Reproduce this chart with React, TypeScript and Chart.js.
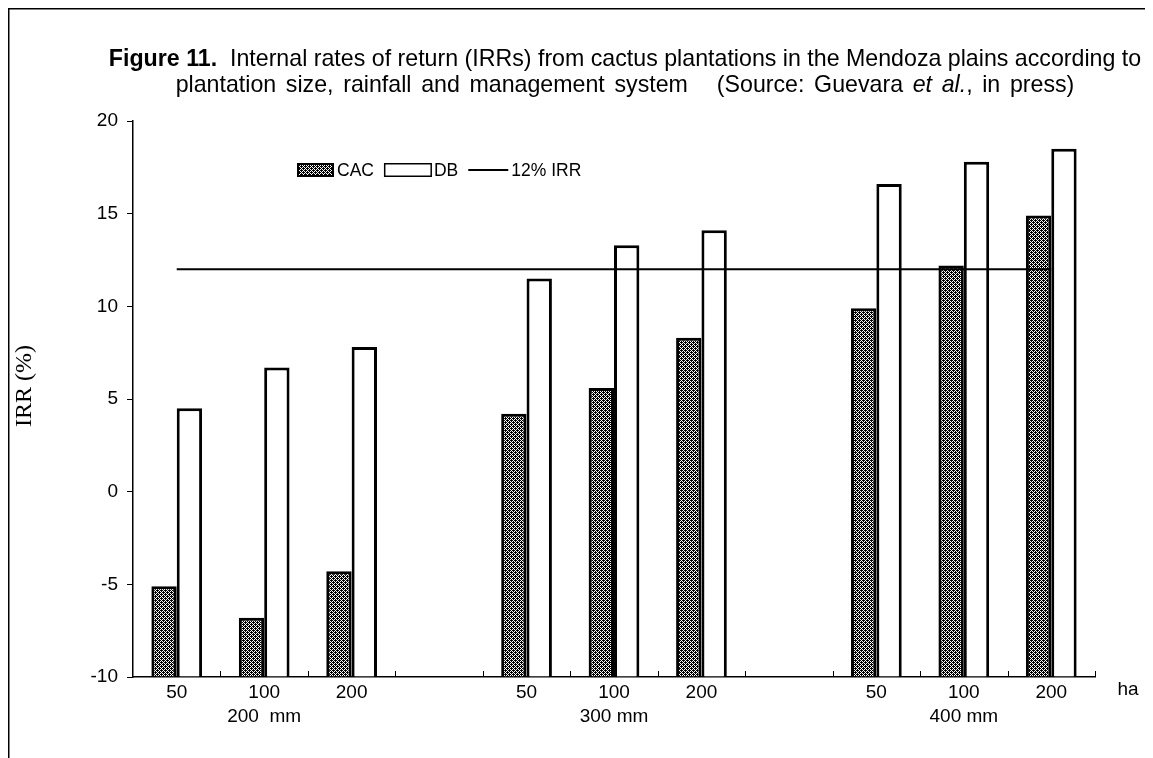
import React, { useEffect, useRef } from "react";
import { Chart, registerables } from "chart.js";

Chart.register(...registerables);

// ---- data ----
const sizeLabels = ["50", "100", "200", "", "50", "100", "200", "", "50", "100", "200"];
const rainfallLabels = ["", "200  mm", "", "", "", "300 mm", "", "", "", "400 mm", ""];
const cacValues = [-5.1, -6.8, -4.3, null, 4.2, 5.6, 8.3, null, 9.9, 12.2, 14.9];
const dbValues = [4.5, 6.7, 7.8, null, 11.5, 13.3, 14.1, null, 16.6, 17.8, 18.5];
const irrLine = [12, 12, 12, 12, 12, 12, 12, 12, 12, 12, 12];
const yTicks = [-10, -5, 0, 5, 10, 15, 20];
const unitLabel = "ha";
const seriesNames = ["CAC", "DB", "12% IRR"];
const yTitle = "IRR (%)";
const titleLine1Bold = "Figure 11.";
const titleLine1Rest = "  Internal rates of return (IRRs) from cactus plantations in the Mendoza plains according to";
const titleLine2A = "plantation size, rainfall and management system   (Source: Guevara ";
const titleLine2Italic = "et al.";
const titleLine2B = ", in press)";

const SANS = "'Liberation Sans', Arial, sans-serif";
const SERIF = "'Liberation Serif', 'Times New Roman', serif";
const W = 1137;
const H = 750;

function makePattern(ctx: CanvasRenderingContext2D) {
  const c = document.createElement("canvas");
  c.width = 4;
  c.height = 4;
  const g = c.getContext("2d")!;
  g.fillStyle = "#ffffff";
  g.fillRect(0, 0, 4, 4);
  g.fillStyle = "#000000";
  const rows = ["1011", "0101", "1110", "0101"];
  rows.forEach((r, y) => {
    for (let x = 0; x < 4; x++) if (r[x] === "1") g.fillRect(x, y, 1, 1);
  });
  return ctx.createPattern(c, "repeat")!;
}

export default function App() {
  const ref = useRef<HTMLCanvasElement>(null);

  useEffect(() => {
    document.documentElement.style.overflow = "hidden";
    document.body.style.overflow = "hidden";
    const canvas = ref.current!;
    const ctx = canvas.getContext("2d")!;
    const pattern = makePattern(ctx);
    const labels = sizeLabels.map((s, i) => (rainfallLabels[i] ? [s, rainfallLabels[i]] : s));

    const framePlugin = {
      id: "frame",
      beforeDraw(chart: any) {
        const c = chart.ctx;
        c.save();
        c.strokeStyle = "#000";
        c.lineWidth = 1.5;
        c.beginPath();
        c.moveTo(0, 0.75);
        c.lineTo(chart.width, 0.75);
        c.moveTo(0.75, 0);
        c.lineTo(0.75, chart.height);
        c.stroke();
        c.restore();
      },
    };

    const titlePlugin = {
      id: "figTitle",
      afterDraw(chart: any) {
        const c = chart.ctx as any;
        const cx = 617;
        const size = 23.2;
        const drawSegs = (segs: { t: string; f: string }[], y: number, ws: string) => {
          c.wordSpacing = ws;
          let total = 0;
          segs.forEach((s) => {
            c.font = s.f;
            total += c.measureText(s.t).width;
          });
          let x = cx - total / 2;
          segs.forEach((s) => {
            c.font = s.f;
            c.fillText(s.t, x, y);
            x += c.measureText(s.t).width;
          });
          c.wordSpacing = "0px";
        };
        c.save();
        c.fillStyle = "#000";
        c.textBaseline = "middle";
        c.textAlign = "left";
        drawSegs(
          [
            { t: titleLine1Bold, f: `bold ${size}px ${SANS}` },
            { t: titleLine1Rest, f: `${size}px ${SANS}` },
          ],
          52,
          "0px"
        );
        drawSegs(
          [
            { t: titleLine2A, f: `${size}px ${SANS}` },
            { t: titleLine2Italic, f: `italic ${size}px ${SANS}` },
            { t: titleLine2B, f: `${size}px ${SANS}` },
          ],
          78,
          "3.2px"
        );
        // y-axis title
        c.save();
        c.translate(17, 378);
        c.rotate(-Math.PI / 2);
        c.textAlign = "center";
        c.textBaseline = "middle";
        c.font = `24px ${SERIF}`;
        c.fillText(yTitle, 0, 0);
        c.restore();
        c.restore();
      },
    };

    const axisExtrasPlugin = {
      id: "axisExtras",
      afterDatasetsDraw(chart: any) {
        const c = chart.ctx as CanvasRenderingContext2D;
        const xs = chart.scales.x;
        const n = xs.ticks.length;
        const step = (xs.right - xs.left) / n;
        const yb = chart.chartArea.bottom;
        c.save();
        c.strokeStyle = "#000";
        c.lineWidth = 1;
        c.beginPath();
        for (let i = 1; i <= n; i++) {
          const px = Math.round(xs.left + step * i) + 0.5;
          c.moveTo(px, yb);
          c.lineTo(px, yb - 6);
        }
        c.stroke();
        // unit label
        c.fillStyle = "#000";
        c.font = `19px ${SANS}`;
        c.textAlign = "center";
        c.textBaseline = "middle";
        c.fillText(unitLabel, chart.chartArea.right + 33, yb + 13);
        c.restore();
      },
    };

    const legendPlugin = {
      id: "customLegend",
      afterDraw(chart: any) {
        const c = chart.ctx as CanvasRenderingContext2D;
        const ca = chart.chartArea;
        let x = ca.left + 164;
        const top = ca.top + 42;
        const h = 14;
        const mid = top + h / 2;
        c.save();
        c.font = `17.5px ${SANS}`;
        c.textBaseline = "middle";
        c.textAlign = "left";
        c.fillStyle = "#000";
        // CAC
        c.fillStyle = pattern;
        c.fillRect(x, top, 37, h);
        c.strokeStyle = "#000";
        c.lineWidth = 2;
        c.strokeRect(x + 1, top + 1, 35, h - 2);
        x += 40;
        c.fillStyle = "#000";
        c.fillText(seriesNames[0], x, mid + 1);
        x += c.measureText(seriesNames[0]).width + 10;
        // DB
        c.fillStyle = "#fff";
        c.fillRect(x, top, 48, h);
        c.lineWidth = 1.5;
        c.strokeRect(x + 0.75, top + 0.75, 46.5, h - 1.5);
        x += 50;
        c.fillStyle = "#000";
        c.fillText(seriesNames[1], x, mid + 1);
        x += c.measureText(seriesNames[1]).width + 10;
        // line
        c.lineWidth = 2;
        c.beginPath();
        c.moveTo(x, mid);
        c.lineTo(x + 40, mid);
        c.stroke();
        x += 43;
        c.fillText(seriesNames[2], x, mid + 1);
        c.restore();
      },
    };

    const chart = new Chart(ctx, {
      type: "bar",
      data: {
        labels,
        datasets: [
          {
            type: "line",
            label: seriesNames[2],
            data: irrLine,
            borderColor: "#000",
            borderWidth: 2,
            pointRadius: 0,
            fill: false,
            tension: 0,
            order: 0,
          } as any,
          {
            label: seriesNames[0],
            data: cacValues,
            backgroundColor: pattern as any,
            borderColor: "#000",
            borderWidth: 3,
            base: yTicks[0],
            order: 1,
            categoryPercentage: 0.58,
            barPercentage: 1,
          } as any,
          {
            label: seriesNames[1],
            data: dbValues,
            backgroundColor: "#fff",
            borderColor: "#000",
            borderWidth: 3,
            base: yTicks[0],
            order: 1,
            categoryPercentage: 0.58,
            barPercentage: 1,
          } as any,
        ],
      },
      options: {
        responsive: false,
        animation: false,
        devicePixelRatio: 1,
        layout: { padding: { top: 113, right: 50, bottom: 0, left: 0 } },
        plugins: {
          legend: { display: false },
          tooltip: { enabled: false },
          title: { display: false },
        },
        scales: {
          x: {
            grid: { display: false, drawOnChartArea: false, drawTicks: false },
            border: { display: true, color: "#000", width: 1.5 },
            ticks: {
              color: "#000",
              font: { family: SANS, size: 19, lineHeight: 1.3 },
              padding: 3,
              maxRotation: 0,
              autoSkip: false,
            },
            afterFit: (s: any) => {
              s.height = 81;
            },
          },
          y: {
            min: yTicks[0],
            max: yTicks[yTicks.length - 1],
            afterBuildTicks: (s: any) => {
              s.ticks = yTicks.map((v) => ({ value: v }));
            },
            ticks: {
              color: "#000",
              font: { family: SANS, size: 19 },
              padding: 9,
            },
            grid: { drawOnChartArea: false, drawTicks: true, tickLength: 6, color: "#000", lineWidth: 1 },
            border: { display: true, color: "#000", width: 1.5 },
            title: { display: false },
            afterFit: (s: any) => {
              s.width = 125;
            },
          },
        },
      } as any,
      plugins: [framePlugin, titlePlugin, axisExtrasPlugin, legendPlugin],
    });

    return () => chart.destroy();
  }, []);

  return (
    <div style={{ width: W, height: H }}>
      <canvas ref={ref} width={W} height={H} style={{ display: "block", width: W, height: H }} />
    </div>
  );
}
